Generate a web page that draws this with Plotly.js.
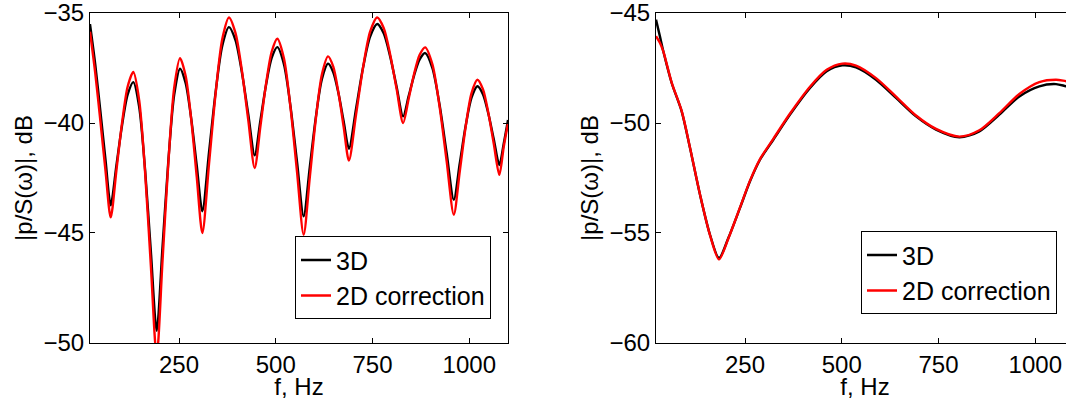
<!DOCTYPE html>
<html>
<head>
<meta charset="utf-8">
<script src="https://cdn.plot.ly/plotly-3.0.1.min.js"></script>
<style>
html,body{margin:0;padding:0;overflow:hidden;background:#fff;}
#chart{width:1090px;height:400px;}
</style>
</head>
<body>
<div id="chart"></div>
<script>
// Left panel: frequency (Hz) and |p/S(w)| in dB
const fLeft = [20,33.4,46.8,60.1,73.5,88.1,102.8,117.4,132,147.1,162.2,177.2,192.3,207.4,222.5,237.5,252.6,267,281.5,295.9,310.3,327.5,344.7,361.8,379,395.6,412.3,428.9,445.5,460.1,474.8,489.4,504,521,538,555,572,587.8,603.5,619.3,635,648.5,662,675.5,689,707.3,725.5,743.8,762,778.8,795.5,812.3,829,843.3,857.5,871.8,886,904.5,923,941.5,960,975.3,990.5,1005.8,1021,1035.2,1049.3,1063.5,1077.6,1088.8,1100];
const left3D = [-35.5,-37.31,-39.46,-41.68,-43.74,-41.95,-40.10,-38.70,-38.14,-39.27,-42.10,-45.82,-49.44,-45.63,-41.70,-38.72,-37.53,-38.18,-39.80,-41.94,-44.01,-41.33,-38.57,-36.48,-35.64,-36.22,-37.68,-39.60,-41.47,-39.90,-38.27,-37.04,-36.55,-37.32,-39.24,-41.78,-44.24,-42.02,-39.73,-37.99,-37.3,-37.69,-38.65,-39.93,-41.17,-39.36,-37.48,-36.07,-35.5,-35.92,-36.97,-38.36,-39.7,-38.78,-37.83,-37.11,-36.82,-37.49,-39.15,-41.36,-43.49,-41.84,-40.14,-38.85,-38.33,-38.69,-39.58,-40.76,-41.91,-40.95,-39.86];
const left2D = [-35.85,-37.71,-39.90,-42.18,-44.29,-42.17,-39.99,-38.34,-37.68,-38.97,-42.20,-46.47,-50.6,-46.26,-41.79,-38.40,-37.05,-37.85,-39.83,-42.46,-45.0,-41.86,-38.63,-36.18,-35.2,-35.89,-37.60,-39.86,-42.05,-40.17,-38.23,-36.76,-36.17,-37.06,-39.29,-42.23,-45.08,-42.48,-39.81,-37.78,-36.97,-37.44,-38.63,-40.19,-41.71,-39.63,-37.48,-35.85,-35.2,-35.68,-36.88,-38.46,-40.0,-38.90,-37.76,-36.90,-36.56,-37.32,-39.22,-41.73,-44.17,-42.21,-40.18,-38.64,-38.03,-38.46,-39.55,-40.97,-42.36,-41.1,-40.0];

// Right panel
const fRight = [20,30,38.9,60.5,86.3,107.9,133.7,159.5,182.8,206.9,237,262.9,288.7,323.1,366.3,417.9,461,501.4,536.8,588.5,640.2,691.8,743.5,803.8,855.4,907.1,958.8,1010.4,1053.6,1079.4,1100];
const right3D = [-45.3,-46.05,-46.74,-48.18,-49.47,-51.14,-53.26,-55.08,-56.14,-55.23,-53.86,-52.65,-51.67,-50.76,-49.62,-48.41,-47.65,-47.38,-47.47,-48.03,-48.86,-49.70,-50.30,-50.65,-50.38,-49.62,-48.79,-48.33,-48.23,-48.33,-48.4];
const right2D = [-46.05,-46.35,-46.74,-48.16,-49.45,-51.12,-53.25,-55.1,-56.2,-55.25,-53.84,-52.62,-51.64,-50.72,-49.57,-48.35,-47.58,-47.3,-47.39,-47.96,-48.80,-49.66,-50.27,-50.62,-50.33,-49.55,-48.68,-48.14,-48.03,-48.1,-48.15];

const seriesNames = ['3D','2D correction'];
const xTicks = [250,500,750,1000];
const yTicksLeft = [-50,-45,-40,-35];
const yTicksRight = [-60,-55,-50,-45];

const FONT = {family:'"Liberation Sans", Arial, Helvetica, sans-serif', size:24, color:'#000'};
const LFONT = {family:'"Liberation Sans", Arial, Helvetica, sans-serif', size:25, color:'#000'};
const W = 1090;

function xax(domain, anchor){
  return {domain:domain, anchor:anchor, range:[20,1100], tickmode:'array', tickvals:xTicks, ticktext:xTicks.map(String),
    showline:true, linecolor:'#000', linewidth:1, mirror:'ticks', ticks:'inside', ticklen:5, tickcolor:'#000',
    showgrid:false, zeroline:false, tickfont:FONT,
    title:{text:'f, Hz', font:FONT, standoff:0}};
}
function yax(range, ticks, anchor){
  return {range:[range[0]-0.002, range[1]+0.002], anchor:anchor, tickmode:'array', tickvals:ticks, ticktext:ticks.map(v => '\u2212' + Math.abs(v)),
    showline:true, linecolor:'#000', linewidth:1, mirror:'ticks', ticks:'inside', ticklen:5, tickcolor:'#000',
    showgrid:false, zeroline:false, tickfont:FONT, ticklabeloverflow:'allow',
    title:{text:'|p/S(ω)|, dB', font:FONT, standoff:4}};
}

const lineStyle = (c) => ({color:c, width:2.4, shape:'spline', smoothing:0.8});

const traces = [
  {x:fLeft, y:left3D, name:seriesNames[0], type:'scatter', mode:'lines', line:lineStyle('#000'), xaxis:'x', yaxis:'y', legend:'legend'},
  {x:fLeft, y:left2D, name:seriesNames[1], type:'scatter', mode:'lines', line:lineStyle('#ff0000'), xaxis:'x', yaxis:'y', legend:'legend'},
  {x:fRight, y:right3D, name:seriesNames[0], type:'scatter', mode:'lines', line:lineStyle('#000'), xaxis:'x2', yaxis:'y2', legend:'legend2'},
  {x:fRight, y:right2D, name:seriesNames[1], type:'scatter', mode:'lines', line:lineStyle('#ff0000'), xaxis:'x2', yaxis:'y2', legend:'legend2'}
];

const legendBase = {font:LFONT, bgcolor:'#fff', bordercolor:'#000', borderwidth:1, xanchor:'left', yanchor:'top', traceorder:'normal'};

const layout = {
  width:W, height:400,
  margin:{l:0, r:0, t:13, b:57},
  paper_bgcolor:'#fff', plot_bgcolor:'#fff',
  font:FONT,
  showlegend:true,
  xaxis:xax([90/W, 508/W], 'y'),
  yaxis:yax([-50,-35], yTicksLeft, 'x'),
  xaxis2:xax([656/W, 1074/W], 'y2'),
  yaxis2:yax([-60,-45], yTicksRight, 'x2'),
  legend:Object.assign({}, legendBase, {x:295/W, y:(343-236.3)/330}),
  legend2:Object.assign({}, legendBase, {x:861/W, y:(343-231.3)/330})
};

Plotly.newPlot('chart', traces, layout, {displayModeBar:false, staticPlot:true});
</script>
</body>
</html>
